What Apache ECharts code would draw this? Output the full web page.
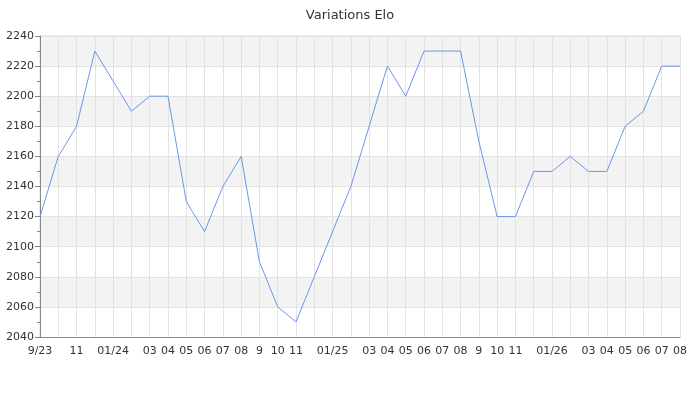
<!DOCTYPE html>
<html><head><meta charset="utf-8">
<script src="https://cdn.jsdelivr.net/npm/echarts@6/dist/echarts.min.js"></script>
<style>html,body{margin:0;padding:0;background:#fff}#c{width:700px;height:400px}</style>
</head><body><div id="c"></div>
<script>
const months = ['2023-09','2023-10','2023-11','2023-12','2024-01','2024-02','2024-03','2024-04','2024-05','2024-06','2024-07','2024-08','2024-09','2024-10','2024-11','2024-12','2025-01','2025-02','2025-03','2025-04','2025-05','2025-06','2025-07','2025-08','2025-09','2025-10','2025-11','2025-12','2026-01','2026-02','2026-03','2026-04','2026-05','2026-06','2026-07','2026-08'];
const tickLabels = ['9/23','','11','','01/24','','03','04','05','06','07','08','9','10','11','','01/25','','03','04','05','06','07','08','9','10','11','','01/26','','03','04','05','06','07','08'];
const elo = [2120,2160,2180,2230,2210,2190,2200,2200,2130,2110,2140,2160,2090,2060,2050,2080,2110,2140,2180,2220,2200,2230,2230,2230,2170,2120,2120,2150,2150,2160,2150,2150,2180,2190,2220,2220];

const chart = echarts.init(document.getElementById('c'), null, {renderer:'canvas'});
chart.setOption({
  animation:false,
  textStyle:{fontFamily:'DejaVu Sans'},
  title:{text:'Variations Elo',left:'center',top:4,textStyle:{fontSize:13,fontWeight:'normal',color:'#333',fontFamily:'DejaVu Sans'}},
  grid:{left:40,right:20,top:36,bottom:63,show:true,borderColor:'#ddd',borderWidth:1},
  xAxis:{type:'category',data:months,boundaryGap:false,
    axisLine:{lineStyle:{color:'#888'}},
    axisTick:{show:false},
    axisLabel:{interval:0,hideOverlap:false,color:'#333',fontSize:11,margin:9,formatter:(v,i)=>tickLabels[i]},
    splitLine:{show:true,interval:0,lineStyle:{color:'#e2e2e2'}}},
  yAxis:{type:'value',min:2040,max:2240,interval:20,
    axisLine:{show:true,lineStyle:{color:'#888'}},
    axisTick:{show:true,length:5,lineStyle:{color:'#888'}},
    minorTick:{show:true,splitNumber:2,length:3,lineStyle:{color:'#888'}},
    axisLabel:{color:'#333',fontSize:11,margin:6,formatter:v=>String(v)},
    splitLine:{lineStyle:{color:'#e2e2e2'}},
    splitArea:{show:true,areaStyle:{color:['#ffffff','#f3f3f3']}}},
  series:[{type:'line',data:elo,showSymbol:false,symbol:'none',lineStyle:{color:'#6b96ee',width:1}}]
});
</script></body></html>
